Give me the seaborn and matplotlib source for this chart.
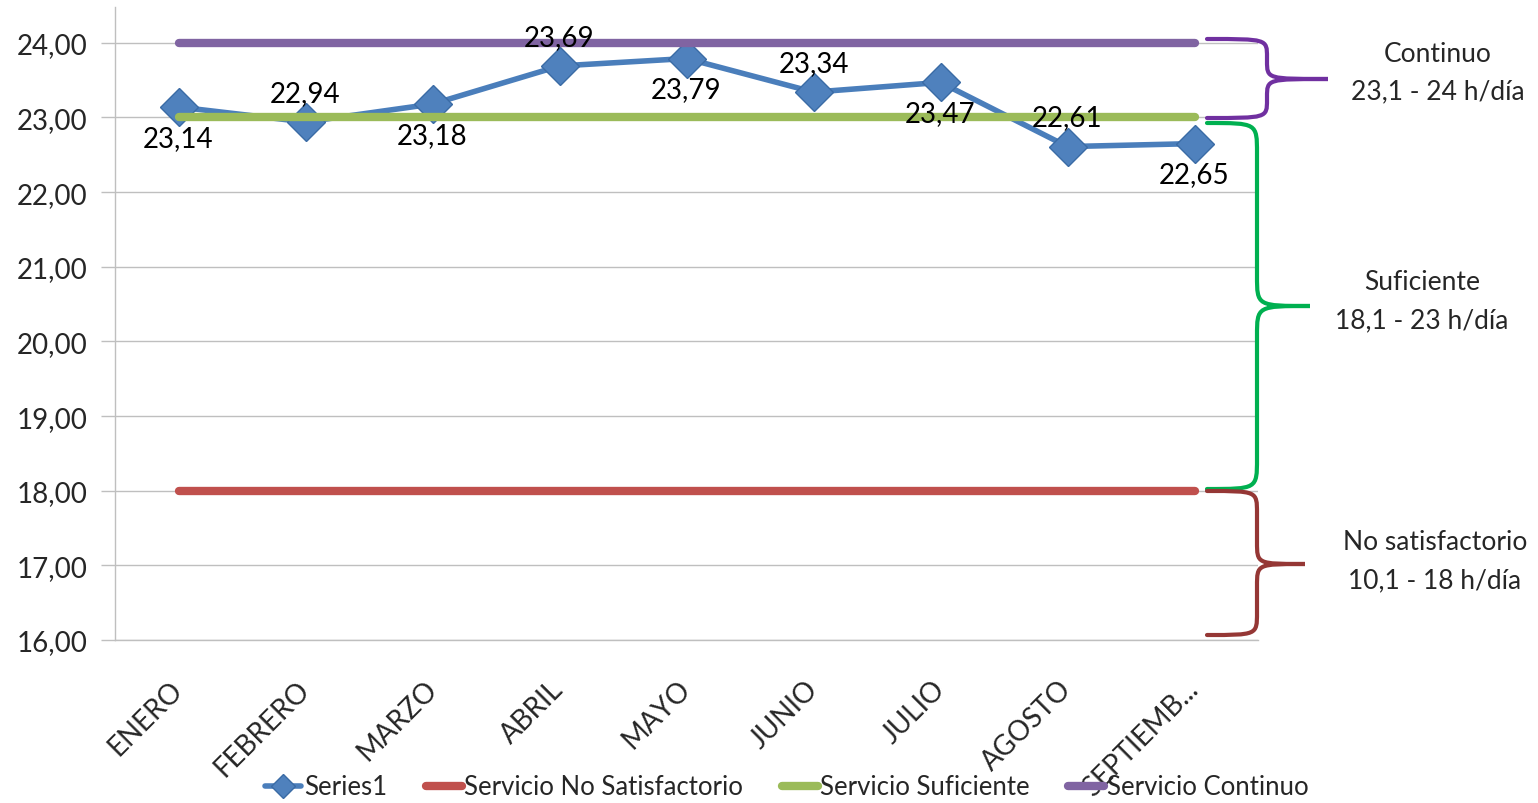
import numpy as np
import pandas as pd
import seaborn as sns
import matplotlib
matplotlib.use("Agg")
import matplotlib.pyplot as plt
from matplotlib.path import Path
from matplotlib.patches import PathPatch
from matplotlib.lines import Line2D
from matplotlib.ticker import FixedLocator, FuncFormatter

# ---------------- data ----------------
months = ["ENERO", "FEBRERO", "MARZO", "ABRIL", "MAYO", "JUNIO", "JULIO", "AGOSTO", "SEPTIEMB..."]
series1 = [23.14, 22.94, 23.18, 23.69, 23.79, 23.34, 23.47, 22.61, 22.65]
no_satisfactorio = [18.0] * 9
suficiente = [23.0] * 9
continuo = [24.0] * 9
legend_labels = ["Series1", "Servicio No Satisfactorio", "Servicio Suficiente", "Servicio Continuo"]
y_ticks = [16, 17, 18, 19, 20, 21, 22, 23, 24]
band_texts = ["Continuo\n23,1 - 24 h/día", "Suficiente\n18,1 - 23 h/día", "No satisfactorio\n10,1 - 18 h/día"]

# ---------------- style ----------------
sns.set_theme(style="white")
plt.rcParams["font.family"] = ["Lato", "DejaVu Sans"]

W, H = 1538, 804
fig = plt.figure(figsize=(W / 100, H / 100), dpi=100)
ax = fig.add_axes([115 / W, 1 - 641 / H, (1258 - 115) / W, (641 - 8) / H])

c_blue = "#4A7EBB"
c_red = "#C0504D"
c_green = "#9BBB59"
c_purple = "#8064A2"

df = pd.DataFrame({"pos": np.arange(len(months)), "Series1": series1,
                   "no": no_satisfactorio, "suf": suficiente, "cont": continuo})

sns.lineplot(data=df, x="pos", y="Series1", ax=ax, color=c_blue, lw=4, marker="D",
             markersize=19, markerfacecolor="#4F81BD", markeredgecolor="#3A6BA5",
             markeredgewidth=1, zorder=3)
sns.lineplot(data=df, x="pos", y="no", ax=ax, color=c_red, lw=6, zorder=4,
             solid_capstyle="round")
sns.lineplot(data=df, x="pos", y="suf", ax=ax, color=c_green, lw=6, zorder=4,
             solid_capstyle="round")
sns.lineplot(data=df, x="pos", y="cont", ax=ax, color=c_purple, lw=6, zorder=4,
             solid_capstyle="round")

# data labels alternate below/above
for i, v in enumerate(series1):
    off = -22 if i % 2 == 0 else 21
    ax.annotate(f"{v:.2f}".replace(".", ","), (i, v), xytext=(0, off),
                textcoords="offset points", ha="center", va="center",
                fontsize=20, color="black", zorder=6)

# axes
ax.set_xlim(-0.5, len(months) - 0.5)
ax.set_ylim(16, 24.48)
ax.yaxis.set_major_locator(FixedLocator(y_ticks))
ax.yaxis.set_major_formatter(FuncFormatter(lambda v, p: f"{v:.2f}".replace(".", ",")))
ax.grid(axis="y", color="#BFBFBF", lw=1)
ax.grid(axis="x", visible=False)
ax.set_xlabel("")
ax.set_ylabel("")

ax.set_xticks(np.arange(len(months)))
ax.set_xticklabels(months, rotation=45, ha="right", va="center", rotation_mode="anchor",
                   fontsize=20)
ax.set_xticks(np.arange(-0.5, len(months)), minor=True)
ax.tick_params(axis="x", which="major", length=0, pad=32)
ax.tick_params(axis="x", which="minor", length=10, color="#BFBFBF", width=1, direction="out")
ax.tick_params(axis="y", length=10, color="#BFBFBF", width=1, direction="out", pad=10,
               labelsize=20, left=True)
for s in ["top", "right"]:
    ax.spines[s].set_visible(False)
for s in ["left", "bottom"]:
    ax.spines[s].set_color("#BFBFBF")
    ax.spines[s].set_linewidth(1)


# ---------------- braces (figure pixel coords) ----------------
def px(x, y):
    return (x / W, 1 - y / H)


def brace(x0, xv, xt, yt, ym, yb, r, color):
    pts = [(x0, yt), (xv, yt), (xv, yt), (xv, yt + r),
           (xv, ym - r), (xv, ym), (xv, ym), (xt, ym),
           (xv, ym), (xv, ym), (xv, ym + r),
           (xv, yb - r), (xv, yb), (xv, yb), (x0, yb)]
    codes = [Path.MOVETO, Path.CURVE4, Path.CURVE4, Path.CURVE4,
             Path.LINETO, Path.CURVE4, Path.CURVE4, Path.CURVE4,
             Path.CURVE4, Path.CURVE4, Path.CURVE4,
             Path.LINETO, Path.CURVE4, Path.CURVE4, Path.CURVE4]
    path = Path([px(*p) for p in pts], codes)
    fig.add_artist(PathPatch(path, transform=fig.transFigure, fill=False,
                             edgecolor=color, lw=3, capstyle="round"))


brace(1207, 1267, 1328, 40, 80, 119, 18, "#7030A0")
brace(1207, 1257, 1310, 124, 307, 490, 30, "#00B050")
brace(1207, 1257, 1305, 492, 565, 636, 22, "#953735")

for txt, (x, y) in zip(band_texts, [(1438, 73), (1422, 302), (1435, 562)]):
    fig.text(*px(x, y), txt, ha="center", va="center", fontsize=19, linespacing=1.65)

# legend
handles = [
    Line2D([0], [0], color=c_blue, lw=4, marker="D", markersize=12,
           markerfacecolor="#4F81BD", markeredgecolor="#3A6BA5"),
    Line2D([0], [0], color=c_red, lw=6, solid_capstyle="round"),
    Line2D([0], [0], color=c_green, lw=6, solid_capstyle="round"),
    Line2D([0], [0], color=c_purple, lw=6, solid_capstyle="round"),
]
fig.legend(handles, legend_labels, loc="center", bbox_to_anchor=px(787, 788), ncol=4,
           frameon=False, fontsize=18.5, handlelength=1.4, handletextpad=0.1,
           columnspacing=1.5)

fig.savefig("out.png", dpi=100)
